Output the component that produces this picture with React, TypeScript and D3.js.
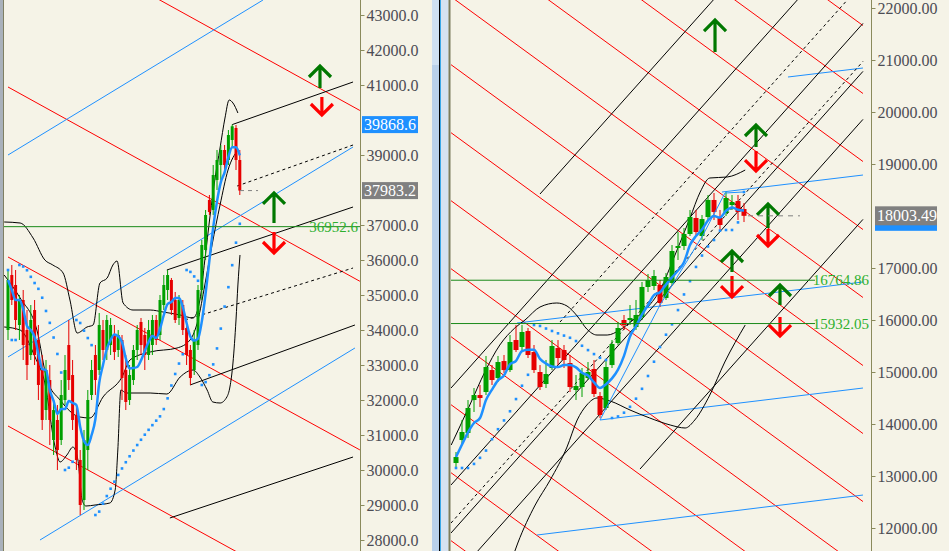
import { useEffect, useRef } from "react";
import * as d3 from "d3";

type Pt = [number, number];
type Seg = [Pt, Pt];

// ---- left panel (index, price) ----
const leftOpen = [34000, 35571, 35286, 34143, 34857, 34000, 33286, 34571, 33714, 32857, 31714, 32571, 30857, 31429, 30857, 32000, 33571, 32714, 31571, 30286, 29143, 30571, 32143, 33286, 32857, 34000, 33429, 33571, 33857, 33429, 33714, 32857, 32000, 32571, 33429, 34229, 33857, 33286, 33571, 34286, 33857, 34714, 35143, 35429, 34857, 34343, 34714, 34057, 33429, 32857, 33571, 35143, 36286, 37714, 37429, 38286, 38714, 39143, 38857, 39429, 39771, 38857];
const leftHigh = [35714, 35857, 35714, 35000, 35143, 34571, 34714, 34857, 34143, 33286, 33143, 33000, 32000, 31857, 32571, 33286, 34286, 33143, 31857, 30571, 31143, 32286, 33143, 33571, 34486, 34286, 34429, 34343, 34143, 34000, 33857, 33286, 33000, 33571, 34143, 34343, 34057, 34286, 34429, 34429, 35000, 35571, 35714, 35486, 35086, 35000, 34857, 34143, 33571, 34000, 35286, 36571, 37429, 37857, 38714, 39143, 39286, 39286, 39714, 39868.6, 39857, 39143];
const leftLow = [33714, 34714, 34000, 33714, 33143, 32571, 33143, 33000, 32000, 31143, 31429, 30714, 30429, 30000, 30714, 31857, 32286, 31143, 30000, 28714, 28857, 30000, 32000, 32143, 32714, 33143, 33143, 33286, 33143, 33229, 32000, 31714, 31857, 32429, 33143, 33286, 32857, 33143, 33286, 33571, 33714, 34571, 34857, 34429, 34200, 34143, 33857, 33000, 32429, 32714, 33429, 34857, 36000, 37286, 37286, 38000, 38286, 38429, 38714, 39200, 38571, 37857];
const leftClose = [35429, 34857, 34286, 34857, 33571, 33000, 34286, 33286, 32429, 31429, 32857, 31429, 31714, 30571, 32143, 32857, 32571, 31429, 30286, 29000, 30857, 32000, 32857, 32571, 34143, 33429, 34286, 34143, 33371, 33857, 32629, 31943, 32714, 33429, 34000, 33571, 33286, 34000, 34286, 33714, 34857, 35286, 35571, 34571, 34286, 34857, 34000, 33286, 32629, 33714, 35143, 36429, 37286, 37371, 38429, 38857, 39143, 38714, 39571, 39820, 38857, 37983.2];

const leftBandUpper: Pt[] = [[-1, 37086], [3.2, 37057], [6.6, 36629], [9.7, 36000], [11.8, 35857], [14.5, 35629], [16.3, 34857], [18.2, 33914], [20.8, 34086], [22.4, 34143], [24.2, 35343], [26.1, 35486], [27.6, 35857], [28.7, 35971], [30.3, 34771], [32.9, 34571], [37.4, 34571], [40.8, 34514], [45.3, 34429], [48.7, 34343], [50.5, 34857], [51.8, 36000], [53.2, 37286], [54.5, 38343], [55.8, 39200], [57.1, 40057], [58.2, 40571], [59.2, 40486], [60.5, 40200]];
const leftBandMid: Pt[] = [[-1, 35571], [3.2, 34914], [7.6, 34000], [10.3, 32571], [13.7, 32000], [18.9, 31514], [21.6, 31486], [25, 32086], [30, 32657], [32.1, 33143], [37.4, 33371], [44.5, 33486], [47.9, 33714], [50, 34286], [51.8, 35286], [53.7, 36429], [55.8, 37571], [57.9, 38571], [60.5, 39143]];
const leftBandLower: Pt[] = [[-1, 34086], [3.2, 34000], [7.1, 33229], [9.7, 32486], [12.4, 30657], [13.7, 30229], [15.5, 30429], [17.1, 30657], [18.4, 30286], [19.5, 29143], [20.5, 28971], [22.9, 29000], [26.8, 29057], [28.2, 29429], [28.9, 30571], [29.7, 32286], [31.1, 32200], [37.4, 32200], [41.8, 32171], [45.3, 32657], [48.7, 32857], [50.5, 32657], [52.4, 32286], [53.9, 31943], [55.8, 31914], [57.6, 32086], [58.4, 32371], [59.2, 33057], [60, 34286], [60.5, 35286], [61.05, 36143]];

const leftRed: Seg[] = [[[-1.05, 45886], [92.6, 40272]], [[0, 40943], [92.6, 35392]], [[0, 36086], [92.6, 30574]], [[0, 31257], [92.6, 25726]]];
const leftBlue: Seg[] = [[[0, 39000], [67.1, 43428]], [[0, 33229], [90.8, 39229]], [[8.42, 28000], [91.3, 33486]]];
const leftBlack: Seg[] = [[[59, 39868.6], [90.8, 41086]], [[41.8, 35714], [90.8, 37514]], [[47.9, 32429], [91.3, 34143]], [[42.6, 28629], [90.8, 30371]]];
const leftBlackDashed: Seg[] = [[[60.3, 38114], [90.8, 39286]], [[46.6, 34286], [90.8, 35771]]];
// [index, tip price, tail price]
const leftUp = [[82.1, 41543, 40914], [70, 37915, 37057]];
const leftDown = [[82.6, 40143, 40657], [70, 36200, 36800]];
// 40000 and 38000 sit under the price boxes
const leftTicks = [28000, 29000, 30000, 31000, 32000, 33000, 34000, 35000, 36000, 37000, 39000, 41000, 42000, 43000];

// ---- right panel ----
const rightOpen = [13250, 13692, 13827, 14461, 14557, 14615, 15038, 14884, 15211, 15038, 15615, 15481, 15788, 15384, 15000, 14769, 15077, 15461, 15423, 15173, 14654, 14711, 14884, 15058, 14538, 14308, 15134, 15558, 16000, 16000, 15865, 16058, 16635, 16654, 16673, 16423, 16712, 17385, 17423, 17654, 17962, 17615, 17981, 18308, 17962, 18058, 18211, 18288, 18135];
const rightHigh = [13461, 14077, 14461, 14692, 14750, 15308, 15134, 15308, 15327, 15711, 15904, 15904, 15846, 15519, 15134, 15231, 15615, 15615, 15519, 15327, 14942, 15077, 15192, 15231, 14615, 15231, 15615, 15961, 16096, 16288, 16385, 16731, 16885, 16962, 16769, 16904, 17442, 17692, 17769, 18115, 18115, 18019, 18404, 18442, 18115, 18461, 18404, 18404, 18250];
const rightLow = [13154, 13596, 13731, 14231, 14327, 14557, 14750, 14808, 14981, 15000, 15384, 15423, 15269, 14981, 14654, 14692, 15038, 15134, 15077, 14615, 14461, 14519, 14846, 14519, 14115, 14269, 15077, 15519, 15808, 15904, 15808, 16000, 16538, 16577, 16250, 16385, 16673, 17154, 17346, 17615, 17615, 17538, 17923, 17923, 17731, 18000, 18115, 17923, 17884];
const rightClose = [13365, 13846, 14308, 14557, 14500, 15096, 14846, 15192, 15038, 15577, 15423, 15769, 15327, 15038, 14711, 14961, 15500, 15269, 15231, 14711, 14731, 14981, 15000, 14577, 14173, 15096, 15538, 15846, 15904, 16038, 16096, 16635, 16769, 16846, 16327, 16827, 17327, 17423, 17654, 17981, 17692, 17942, 18308, 18077, 17827, 18346, 18269, 18077, 18003.49];

const rightBandUpper: Pt[] = [[-0.8, 13596], [2.3, 14365], [4.8, 15000], [7.3, 15519], [9.8, 15846], [11.5, 16000], [14, 16250], [16.8, 16327], [18.5, 16269], [20.2, 16077], [21.8, 15827], [23.5, 15711], [25.2, 15711], [27.3, 15808], [29.5, 16000], [31.5, 16192], [34, 16577], [36.5, 17250], [39, 17962], [40.7, 18461], [42.3, 18731], [45.2, 18750], [48.2, 18884]];
const rightBandLower: Pt[] = [[8.2, 11000], [10.3, 11711], [13.2, 12442], [15.7, 12923], [18.5, 13557], [20.2, 14077], [21.8, 14365], [23.5, 14500], [25.7, 14442], [29, 14269], [32.3, 14115], [35.7, 13981], [38.2, 13923], [39.8, 14077], [42.3, 14557], [44.8, 15192], [48.2, 15903]];
const rightTrend: Pt[] = [[24, 14077], [34, 16288], [41.17, 17635], [44.83, 18442], [47.83, 18461]];

const rightRed: Seg[] = [
  [[-0.83, 27448], [67.83, 21663]], [[-0.83, 26140], [67.83, 20356]], [[-0.83, 24833], [67.83, 19048]],
  [[-0.83, 23525], [67.83, 17740]], [[-0.83, 22217], [67.83, 16433]], [[-0.83, 20910], [67.83, 15125]],
  [[-0.83, 19602], [67.83, 13817]], [[-0.83, 18294], [67.83, 12509]], [[-0.83, 16986], [67.83, 11202]],
  [[-0.83, 15679], [67.83, 9894]], [[-0.83, 14371], [67.83, 8586]], [[-0.83, 13063], [67.83, 7279]],
  [[-0.83, 11756], [67.83, 5971]],
];
const rightBlack: Seg[] = [[[14, 18423], [67.83, 25377]], [[-0.83, 14692], [67.83, 23569]], [[-0.83, 12827], [67.83, 21704]], [[-0.83, 11904], [67.83, 20781]], [[-0.83, 10981], [67.83, 19858]], [[30.67, 13134], [67.83, 17935]]];
const rightBlackDashed: Seg[] = [[[17.33, 15961], [67.83, 22492]], [[-0.83, 12096], [67.83, 20973]]];
const rightBlue: Seg[] = [[[10.17, 15942], [67.83, 16731]], [[44.33, 18461], [67.83, 18788]], [[55.33, 20673], [67.83, 20846]], [[13.5, 11865], [67.83, 12634]], [[24, 14077], [67.83, 14692]]];
const rightUp = [[43.17, 21769, 21154], [50, 19750, 19327], [52, 18231, 17769], [46, 17327, 16923], [54, 16673, 16288]];
const rightDown = [[50, 18865, 19250], [52, 17423, 17750], [46, 16442, 16846], [54, 15692, 16058]];
const rightLevels = [16764.86, 15932.05];
// 18000 sits under the price box
const rightTicks = [12000, 13000, 14000, 15000, 16000, 17000, 19000, 20000, 21000, 22000];

const BG = "#f5f3e7";
const GREEN = "#00a000";
const RED = "#e60000";
const BLUE = "#1e90ff";
const AXIS = "#8a8a5c";
const FONT = "'Liberation Serif', serif";

function sma(v: number[], n: number) {
  return v.map((_, i) => d3.mean(v.slice(Math.max(0, i - n + 1), i + 1)) as number);
}

function parabolicSar(high: number[], low: number[], startUp: boolean) {
  const out: number[] = [];
  let up = startUp;
  let af = 0.02;
  let ep = up ? high[0] : low[0];
  let s = up ? low[0] : high[0];
  out.push(s);
  for (let i = 1; i < high.length; i++) {
    s = s + af * (ep - s);
    if (up) {
      s = Math.min(s, low[i - 1], low[Math.max(0, i - 2)]);
      if (low[i] < s) { up = false; s = ep; ep = low[i]; af = 0.02; }
      else if (high[i] > ep) { ep = high[i]; af = Math.min(af + 0.02, 0.2); }
    } else {
      s = Math.max(s, high[i - 1], high[Math.max(0, i - 2)]);
      if (high[i] > s) { up = true; s = ep; ep = high[i]; af = 0.02; }
      else if (low[i] < ep) { ep = low[i]; af = Math.min(af + 0.02, 0.2); }
    }
    out.push(s);
  }
  return out;
}

type PanelCfg = {
  id: string;
  left: number;
  right: number;
  x: d3.ScaleLinear<number, number>;
  y: d3.ScaleLinear<number, number>;
  open: number[]; high: number[]; low: number[]; close: number[];
  bodyW: number;
  bands: Pt[][];
  red: Seg[]; blue: Seg[]; black: Seg[]; dashed: Seg[];
  up: number[][]; down: number[][];
  sarUp: boolean;
};

function drawPanel(svg: d3.Selection<SVGSVGElement, unknown, null, undefined>, c: PanelCfg) {
  const { x, y } = c;
  svg.append("defs").append("clipPath").attr("id", c.id)
    .append("rect").attr("x", c.left).attr("y", 0).attr("width", c.right - c.left).attr("height", 551);
  const g = svg.append("g").attr("clip-path", `url(#${c.id})`);

  const seg = (list: Seg[], color: string, dash?: string) => {
    g.append("g").selectAll("line").data(list).join("line")
      .attr("x1", (d) => x(d[0][0])).attr("y1", (d) => y(d[0][1]))
      .attr("x2", (d) => x(d[1][0])).attr("y2", (d) => y(d[1][1]))
      .attr("stroke", color).attr("stroke-width", 1)
      .attr("stroke-dasharray", dash ?? null);
  };
  seg(c.red, "#ff0000");
  seg(c.blue, BLUE);
  seg(c.black, "#000");
  seg(c.dashed, "#000", "3,3");

  const line = d3.line<Pt>().x((d) => x(d[0])).y((d) => y(d[1])).curve(d3.curveMonotoneX);
  c.bands.forEach((b) => {
    g.append("path").attr("d", line(b)).attr("fill", "none").attr("stroke", "#000").attr("stroke-width", 1);
  });

  const idx = d3.range(c.close.length);
  // candles
  const cg = g.append("g");
  cg.selectAll("line").data(idx).join("line")
    .attr("x1", (i) => x(i)).attr("x2", (i) => x(i))
    .attr("y1", (i) => y(c.high[i])).attr("y2", (i) => y(c.low[i]))
    .attr("stroke", (i) => (c.close[i] >= c.open[i] ? GREEN : RED)).attr("stroke-width", 1);
  cg.selectAll("rect").data(idx).join("rect")
    .attr("x", (i) => x(i) - c.bodyW / 2)
    .attr("y", (i) => y(Math.max(c.open[i], c.close[i])))
    .attr("width", c.bodyW)
    .attr("height", (i) => Math.max(1.5, Math.abs(y(c.open[i]) - y(c.close[i]))))
    .attr("fill", (i) => (c.close[i] >= c.open[i] ? GREEN : RED));

  // moving average
  const ma = sma(c.close, 5);
  g.append("path")
    .attr("d", d3.line<number>().x((_, i) => x(i)).y((d) => y(d)).curve(d3.curveMonotoneX)(ma))
    .attr("fill", "none").attr("stroke", BLUE).attr("stroke-width", 2.5);

  // parabolic SAR dots
  const sar = parabolicSar(c.high, c.low, c.sarUp);
  g.append("g").selectAll("rect").data(sar).join("rect")
    .attr("x", (_, i) => x(i) - 1.3).attr("y", (d) => y(d) - 1.3)
    .attr("width", 2.6).attr("height", 2.6).attr("fill", BLUE);

  // arrows
  const arrow = (list: number[][], color: string, dir: number) => {
    g.append("g").selectAll("path").data(list).join("path")
      .attr("d", (d) => {
        const ax = x(d[0]); const tip = y(d[1]); const tail = y(d[2]);
        return `M${ax},${tail}L${ax},${tip}M${ax - 11},${tip + dir * 11}L${ax},${tip}L${ax + 11},${tip + dir * 11}`;
      })
      .attr("fill", "none").attr("stroke", color).attr("stroke-width", 3.2);
  };
  arrow(c.up, "#007800", 1);
  arrow(c.down, "#ff0000", -1);
  return g;
}

export default function App() {
  const ref = useRef<SVGSVGElement | null>(null);

  useEffect(() => {
    if (!ref.current) return;
    const svg = d3.select(ref.current);
    svg.selectAll("*").remove();
    svg.append("rect").attr("width", 949).attr("height", 551).attr("fill", BG);

    // ---------- left ----------
    const xL = d3.scaleLinear().domain([0, 61]).range([8, 239.8]);
    const yL = d3.scaleLinear().domain([28000, 43000]).range([540, 15]);
    const gL = drawPanel(svg, {
      id: "clipL", left: 4, right: 360, x: xL, y: yL,
      open: leftOpen, high: leftHigh, low: leftLow, close: leftClose, bodyW: 3,
      bands: [leftBandUpper, leftBandMid, leftBandLower],
      red: leftRed, blue: leftBlue, black: leftBlack, dashed: leftBlackDashed,
      up: leftUp, down: leftDown, sarUp: false,
    });
    gL.append("line").attr("x1", 4).attr("x2", 360).attr("y1", yL(36952.6)).attr("y2", yL(36952.6))
      .attr("stroke", "#1a8a1a").attr("stroke-width", 1);
    gL.append("line").attr("x1", xL(61.05)).attr("x2", xL(65.8)).attr("y1", yL(37983.2)).attr("y2", yL(37983.2))
      .attr("stroke", "#808080").attr("stroke-dasharray", "4,4");
    gL.append("text").attr("x", 358).attr("y", yL(36952.6)).attr("dy", "0.35em").attr("text-anchor", "end")
      .attr("font-family", FONT).attr("font-size", 15).attr("fill", "#2eb02e").text("36952.6");

    svg.append("line").attr("x1", 360.5).attr("x2", 360.5).attr("y1", 0).attr("y2", 551).attr("stroke", AXIS);
    const axL = svg.append("g").attr("transform", "translate(360.5,0)")
      .call(d3.axisRight(yL).tickValues(leftTicks).tickFormat(d3.format(".1f")).tickSize(4).tickSizeOuter(0).tickPadding(2));
    axL.select(".domain").remove();
    axL.selectAll("line").attr("stroke", AXIS);
    axL.selectAll("text").attr("font-family", FONT).attr("font-size", 16).attr("fill", "#4c4c54");

    const priceBox = (x0: number, yc: number, w: number, h: number, fill: string, label: string | null) => {
      svg.append("rect").attr("x", x0).attr("y", yc - h / 2).attr("width", w).attr("height", h).attr("fill", fill);
      if (label) {
        svg.append("text").attr("x", x0 + 2).attr("y", yc).attr("dy", "0.35em")
          .attr("font-family", FONT).attr("font-size", 16).attr("fill", "#fff").text(label);
      }
    };
    priceBox(362, yL(39868.6), 56, 17, BLUE, "39868.6");
    priceBox(362, yL(37983.2), 56, 17, "#808080", "37983.2");

    // left border
    svg.append("rect").attr("x", 0).attr("y", 0).attr("width", 3).attr("height", 551).attr("fill", "#a9b1bb");
    svg.append("line").attr("x1", 3.5).attr("x2", 3.5).attr("y1", 0).attr("y2", 551).attr("stroke", "#7f7f62");

    // separator
    svg.append("rect").attr("x", 432).attr("y", 0).attr("width", 7).attr("height", 551).attr("fill", "#b9d0ea");
    svg.append("rect").attr("x", 432).attr("y", 0).attr("width", 7).attr("height", 65).attr("fill", "#cfe0f2");
    svg.append("rect").attr("x", 439).attr("y", 0).attr("width", 1).attr("height", 551).attr("fill", "#000");
    svg.append("rect").attr("x", 440).attr("y", 0).attr("width", 1).attr("height", 551).attr("fill", "#3aa8e8");
    svg.append("rect").attr("x", 441).attr("y", 0).attr("width", 7.5).attr("height", 551).attr("fill", "#d6e2f1");
    svg.append("rect").attr("x", 448.5).attr("y", 0).attr("width", 2).attr("height", 551).attr("fill", "#7d7d5e");

    // ---------- right ----------
    const xR = d3.scaleLinear().domain([0, 48]).range([456, 744]);
    const yR = d3.scaleLinear().domain([12000, 22000]).range([528, 8]);
    const gR = drawPanel(svg, {
      id: "clipR", left: 451, right: 871, x: xR, y: yR,
      open: rightOpen, high: rightHigh, low: rightLow, close: rightClose, bodyW: 5,
      bands: [rightBandUpper, rightBandLower],
      red: rightRed, blue: rightBlue, black: rightBlack, dashed: rightBlackDashed,
      up: rightUp, down: rightDown, sarUp: true,
    });
    gR.append("path")
      .attr("d", d3.line<Pt>().x((d) => xR(d[0])).y((d) => yR(d[1]))(rightTrend))
      .attr("fill", "none").attr("stroke", BLUE).attr("stroke-width", 1);
    rightLevels.forEach((lv) => {
      gR.append("line").attr("x1", 451).attr("x2", 815).attr("y1", yR(lv)).attr("y2", yR(lv))
        .attr("stroke", "#1a8a1a").attr("stroke-width", 1);
      gR.append("text").attr("x", 869).attr("y", yR(lv)).attr("dy", "0.35em").attr("text-anchor", "end")
        .attr("font-family", FONT).attr("font-size", 15).attr("fill", "#2eb02e").text(d3.format(".2f")(lv));
    });
    gR.append("line").attr("x1", xR(48.67)).attr("x2", xR(57.33)).attr("y1", yR(18003.49)).attr("y2", yR(18003.49))
      .attr("stroke", "#808080").attr("stroke-dasharray", "5,5");

    svg.append("line").attr("x1", 871.5).attr("x2", 871.5).attr("y1", 0).attr("y2", 551).attr("stroke", AXIS);
    const axR = svg.append("g").attr("transform", "translate(871.5,0)")
      .call(d3.axisRight(yR).tickValues(rightTicks).tickFormat(d3.format(".2f")).tickSize(4).tickSizeOuter(0).tickPadding(2));
    axR.select(".domain").remove();
    axR.selectAll("line").attr("stroke", AXIS);
    axR.selectAll("text").attr("font-family", FONT).attr("font-size", 16).attr("fill", "#4c4c54");

    // second (bid/ask) box peeking out from under the last-price box
    priceBox(875, yR(18003.49) + 6, 62, 18, BLUE, null);
    priceBox(875, yR(18003.49), 62, 19, "#808080", "18003.49");
  }, []);

  return (
    <div style={{ position: "fixed", left: 0, top: 0 }}>
      <svg ref={ref} width={949} height={551} style={{ display: "block" }} />
    </div>
  );
}
